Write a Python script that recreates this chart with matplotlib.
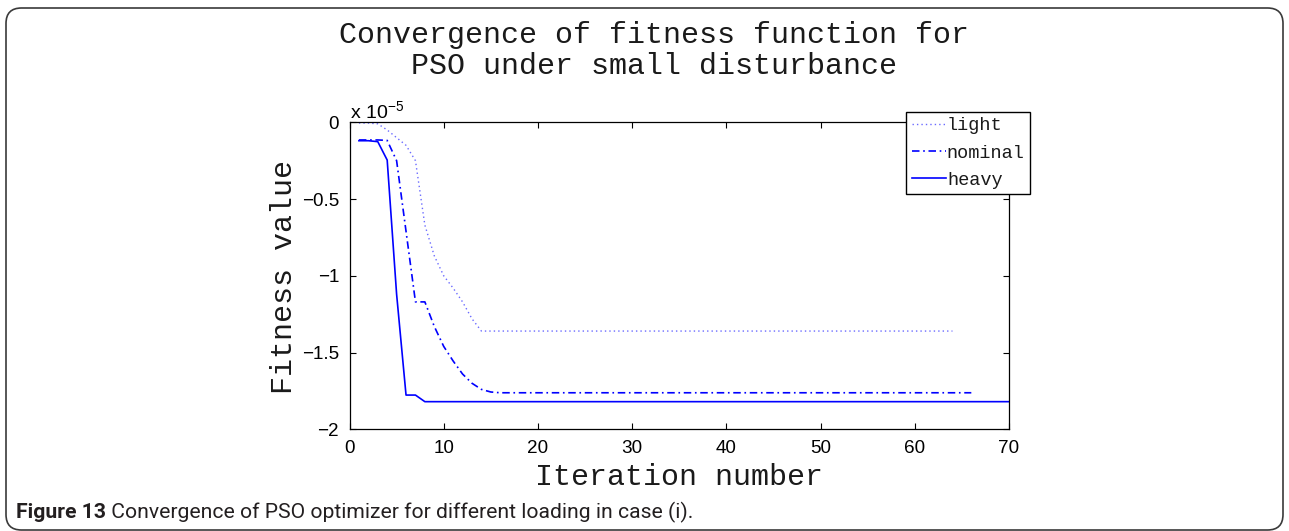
import matplotlib
matplotlib.use("Agg")
import matplotlib.pyplot as plt
from matplotlib.patches import FancyBboxPatch

# Fitness values are stored in units of 1e-5
iter_light = [1, 2, 3, 4, 5, 6, 7, 8, 9, 10, 11, 12, 13, 14, 64]
fit_light = [-0.005, -0.005, -0.01, -0.05, -0.10, -0.15, -0.25, -0.67, -0.87,
             -1.00, -1.08, -1.17, -1.28, -1.36, -1.36]

iter_nominal = [1, 2, 3, 4, 5, 6, 7, 8, 9, 10, 11, 12, 13, 14, 15, 16, 66]
fit_nominal = [-0.115, -0.115, -0.115, -0.118, -0.25, -0.71, -1.17, -1.17, -1.33,
               -1.46, -1.555, -1.64, -1.70, -1.74, -1.757, -1.762, -1.762]

iter_heavy = [1, 2, 3, 4, 5, 6, 7, 8, 70]
fit_heavy = [-0.12, -0.12, -0.126, -0.246, -1.12, -1.777, -1.777, -1.82, -1.82]

series_labels = ["light", "nominal", "heavy"]
x_ticks = [0, 10, 20, 30, 40, 50, 60, 70]
y_ticks = [-2, -1.5, -1, -0.5, 0]
y_tick_labels = ["\u22122", "\u22121.5", "\u22121", "\u22120.5", "0"]

title_lines = ["Convergence of fitness function for", "PSO under small disturbance"]
x_label = "Iteration number"
y_label = "Fitness value"
caption_bold = "Figure 13"
caption_rest = " Convergence of PSO optimizer for different loading in case (i)."

W, H = 1289, 531
DPI = 100
MONO = "Liberation Mono"
SANS = "Liberation Sans"
CAP = "Roboto"
TEXT_COL = "#1a1a1a"

plt.rcParams["mathtext.fontset"] = "custom"
plt.rcParams["mathtext.rm"] = SANS
plt.rcParams["mathtext.it"] = SANS
plt.rcParams["axes.unicode_minus"] = True


def px(x, y):
    """Pixel position (from top-left) to figure fraction."""
    return x / W, 1 - y / H


fig = plt.figure(figsize=(W / DPI, H / DPI), dpi=DPI)
fig.patch.set_facecolor("white")

ax_l, ax_r, ax_t, ax_b = 349.5, 1009.0, 122.3, 429.3
ax = fig.add_axes([ax_l / W, 1 - ax_b / H, (ax_r - ax_l) / W, (ax_b - ax_t) / H])

l1, = ax.plot(iter_light, fit_light, color="#6a6aff", lw=1.0,
              linestyle=(0, (1, 2.2)), label=series_labels[0])
l2, = ax.plot(iter_nominal, fit_nominal, color="blue", lw=1.2,
              linestyle=(0, (4.5, 2.2, 1, 2.2)), label=series_labels[1])
l3, = ax.plot(iter_heavy, fit_heavy, color="blue", lw=1.2,
              linestyle="-", label=series_labels[2])

ax.set_xlim(0, 70)
ax.set_ylim(-2, 0)
ax.set_xticks(x_ticks)
ax.set_yticks(y_ticks)
ax.set_yticklabels(y_tick_labels)
ax.tick_params(direction="in", length=4.5, width=0.8, top=True, right=True,
               labelsize=13.6, pad=7.5, colors="black")
for lab in ax.get_xticklabels() + ax.get_yticklabels():
    lab.set_fontfamily(SANS)
for sp in ax.spines.values():
    sp.set_linewidth(0.9)

# exponent marker above the y axis
ax.text(0.0, 1.0, r"x 10$^{-5}$", transform=ax.transAxes,
        ha="left", va="bottom", fontsize=14, family=SANS)

leg = ax.legend(handles=[l1, l2, l3], loc="upper right",
                bbox_to_anchor=px(1030, 112), bbox_transform=fig.transFigure,
                borderaxespad=0, fancybox=False, framealpha=1,
                edgecolor="black", handlelength=1.85, handletextpad=0.05,
                labelspacing=0.55, borderpad=0.28,
                prop={"family": MONO, "size": 13.4})
leg.get_frame().set_linewidth(1.0)
for t in leg.get_texts():
    t.set_color(TEXT_COL)

# title, axis labels
fig.text(*px(654, 43), title_lines[0], ha="center", va="baseline",
         family=MONO, fontsize=21.6, color=TEXT_COL)
fig.text(*px(654, 74), title_lines[1], ha="center", va="baseline",
         family=MONO, fontsize=21.6, color=TEXT_COL)
fig.text(*px(679, 485), x_label, ha="center", va="baseline",
         family=MONO, fontsize=21.6, color=TEXT_COL)
fig.text(*px(284, 277), y_label, ha="center", va="center", rotation=90,
         family=MONO, fontsize=21.6, color=TEXT_COL)

# rounded frame around the figure panel
frame = FancyBboxPatch(px(6, 530), (1283 - 6) / W, (530 - 8) / H,
                       boxstyle="round,pad=0,rounding_size=0.012",
                       transform=fig.transFigure, facecolor="none",
                       edgecolor="#3a3a3a", linewidth=1.2, mutation_aspect=W / H)
fig.patches.append(frame)

# caption: bold lead-in followed by regular text, fitted to the panel width
cap_x0, cap_x1, cap_base = 16, 690, 518
renderer = fig.canvas.get_renderer()
size = 15.0
t_bold = fig.text(*px(cap_x0, cap_base), caption_bold, ha="left", va="baseline",
                  family=CAP, weight="bold", fontsize=size, color="#231f20")
t_rest = fig.text(0, 0, caption_rest, ha="left", va="baseline",
                  family=CAP, fontsize=size, color="#231f20")
for _ in range(3):
    wb = t_bold.get_window_extent(renderer).width
    wr = t_rest.get_window_extent(renderer).width
    size = size * (cap_x1 - cap_x0) / (wb + wr)
    t_bold.set_fontsize(size)
    t_rest.set_fontsize(size)
wb = t_bold.get_window_extent(renderer).width
t_rest.set_position(px(cap_x0 + wb, cap_base))

fig.savefig("out.png", dpi=DPI, facecolor="white")
